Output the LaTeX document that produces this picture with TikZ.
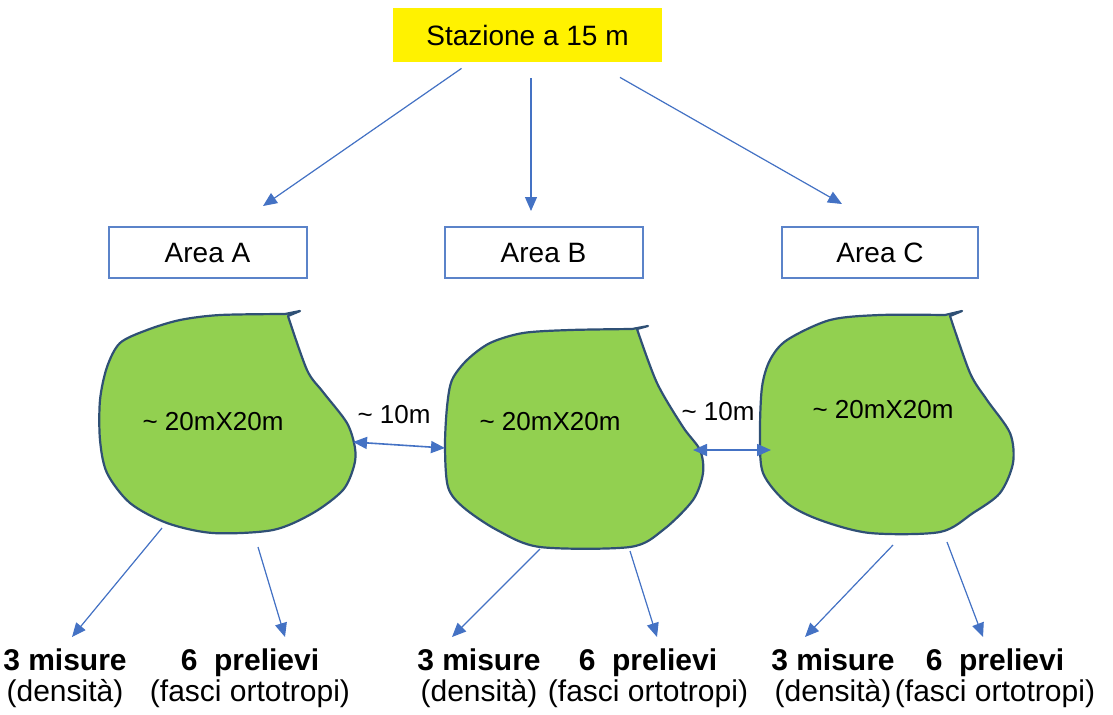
\documentclass[tikz,border=0pt]{standalone}
\usepackage{fontspec}
\setmainfont{Liberation Sans}
\usetikzlibrary{arrows.meta, positioning, calc}
\definecolor{arrowblue}{HTML}{4472C4}
\definecolor{boxblue}{HTML}{5B83C9}
\definecolor{grassgreen}{HTML}{92D050}
\definecolor{edgeblue}{HTML}{2F5075}
\definecolor{stationyellow}{HTML}{FFF200}

\begin{document}
\begin{tikzpicture}[x=0.5pt, y=-0.5pt, >={Triangle[length=7pt, width=6pt]},
    arr/.style={->, draw=arrowblue, fill=arrowblue, line width=0.6pt},
    gap/.style={<->, draw=arrowblue, fill=arrowblue, line width=0.8pt},
    areabox/.style={draw=boxblue, line width=1pt, minimum width=99pt, minimum height=25.5pt, inner sep=0pt, font=\fontsize{14}{16}\selectfont},
    blob/.style={fill=grassgreen, draw=edgeblue, line width=1.1pt, line join=round},
    blobtext/.style={inner sep=0pt, font=\fontsize{13}{15}\selectfont},
    result/.style={align=center, anchor=north, inner sep=0pt, font=\fontsize{15}{15.5}\selectfont}]
    \useasboundingbox (0,0) rectangle (1113,714);

    % Station and areas
    \node[fill=stationyellow, minimum width=134.5pt, minimum height=27pt, inner sep=0pt, font=\fontsize{14}{16}\selectfont] (top) at (527.5,35) {Stazione a 15 m};
    \node[areabox] (areaA) at (207.5,252.5) {Area A};
    \node[areabox] (areaB) at (543.5,252.5) {Area B};
    \node[areabox, minimum width=98pt] (areaC) at (880,252.5) {Area C};

    % Edges from station
    \draw[arr] ($(top.south)+(-66,6)$) -- ($(areaA.north)+(55.5,-20)$);
    \draw[arr] ($(top.south)+(3.5,16)$) -- ($(areaB.north)+(-12.5,-15)$);
    \draw[arr] ($(top.south)+(92.5,15)$) -- ($(areaC.north)+(-38,-22)$);

    % Fields
    \draw[blob] (300,311) -- (288,316) -- plot[smooth, tension=0.5] coordinates {(288,316) (307,370) (323,392) (347,423) (355,448) (354,466) (343,490) (313,513) (273,530) (213,533) (167,523) (130,503) (107,473) (100,440) (100,400) (107,367) (120,343) (147,330) (180,320) (220,315) (285,314)} -- cycle;
    \draw[blob] (648,326) -- (637,329) -- plot[smooth, tension=0.5] coordinates {(637,329) (657,383) (683,427) (700,450) (703,473) (693,500) (663,530) (630,547) (540,547) (497,530) (463,507) (448,487) (445,447) (447,407) (452,380) (467,360) (490,343) (523,333) (570,330) (632,329)} -- cycle;
    \draw[blob] (962,311) -- (950,316) -- plot[smooth, tension=0.5] coordinates {(950,316) (970,373) (987,400) (1010,433) (1013,463) (1000,493) (973,513) (940,532) (870,533) (820,520) (787,503) (763,473) (760,433) (762,387) (770,360) (787,340) (830,320) (880,315) (945,315)} -- cycle;
    \node[blobtext] (fieldA) at (213,422) {\textasciitilde{} 20mX20m};
    \node[blobtext] (fieldB) at (550,422) {\textasciitilde{} 20mX20m};
    \node[blobtext] (fieldC) at (883,410) {\textasciitilde{} 20mX20m};

    % Distances between fields
    \coordinate (eastA) at (353,442);
    \coordinate (westB) at (445,448);
    \coordinate (eastB) at (693,450);
    \coordinate (westC) at (771,450);
    \draw[gap] (eastA) -- (westB);
    \draw[gap] (eastB) -- (westC);
    \node[blobtext] (gapAB) at (394,415) {\textasciitilde{} 10m};
    \node[blobtext] (gapBC) at (718,412) {\textasciitilde{} 10m};

    % Samples
    \node[result] (misA) at (65,648) {\textbf{3 misure}\\(densità)};
    \node[result] (prelA) at (250,648) {\textbf{6\ \ prelievi}\\(fasci ortotropi)};
    \node[result] (misB) at (479,648) {\textbf{3 misure}\\(densità)};
    \node[result] (prelB) at (648,648) {\textbf{6\ \ prelievi}\\(fasci ortotropi)};
    \node[result] (misC) at (833,648) {\textbf{3 misure}\\(densità)};
    \node[result] (prelC) at (995,648) {\textbf{6\ \ prelievi}\\(fasci ortotropi)};

    % Edges from fields
    \coordinate (botA1) at (162,528);
    \coordinate (botA2) at (258,547);
    \coordinate (botB1) at (540,549);
    \coordinate (botB2) at (630,551);
    \coordinate (botC1) at (893,545);
    \coordinate (botC2) at (947,542);
    \draw[arr] (botA1) -- ($(misA.north)+(7,-11)$);
    \draw[arr] (botA2) -- ($(prelA.north)+(35,-11)$);
    \draw[arr] (botB1) -- ($(misB.north)+(-27,-11)$);
    \draw[arr] (botB2) -- ($(prelB.north)+(9,-11)$);
    \draw[arr] (botC1) -- ($(misC.north)+(-28,-11)$);
    \draw[arr] (botC2) -- ($(prelC.north)+(-12,-11)$);
\end{tikzpicture}
\end{document}
